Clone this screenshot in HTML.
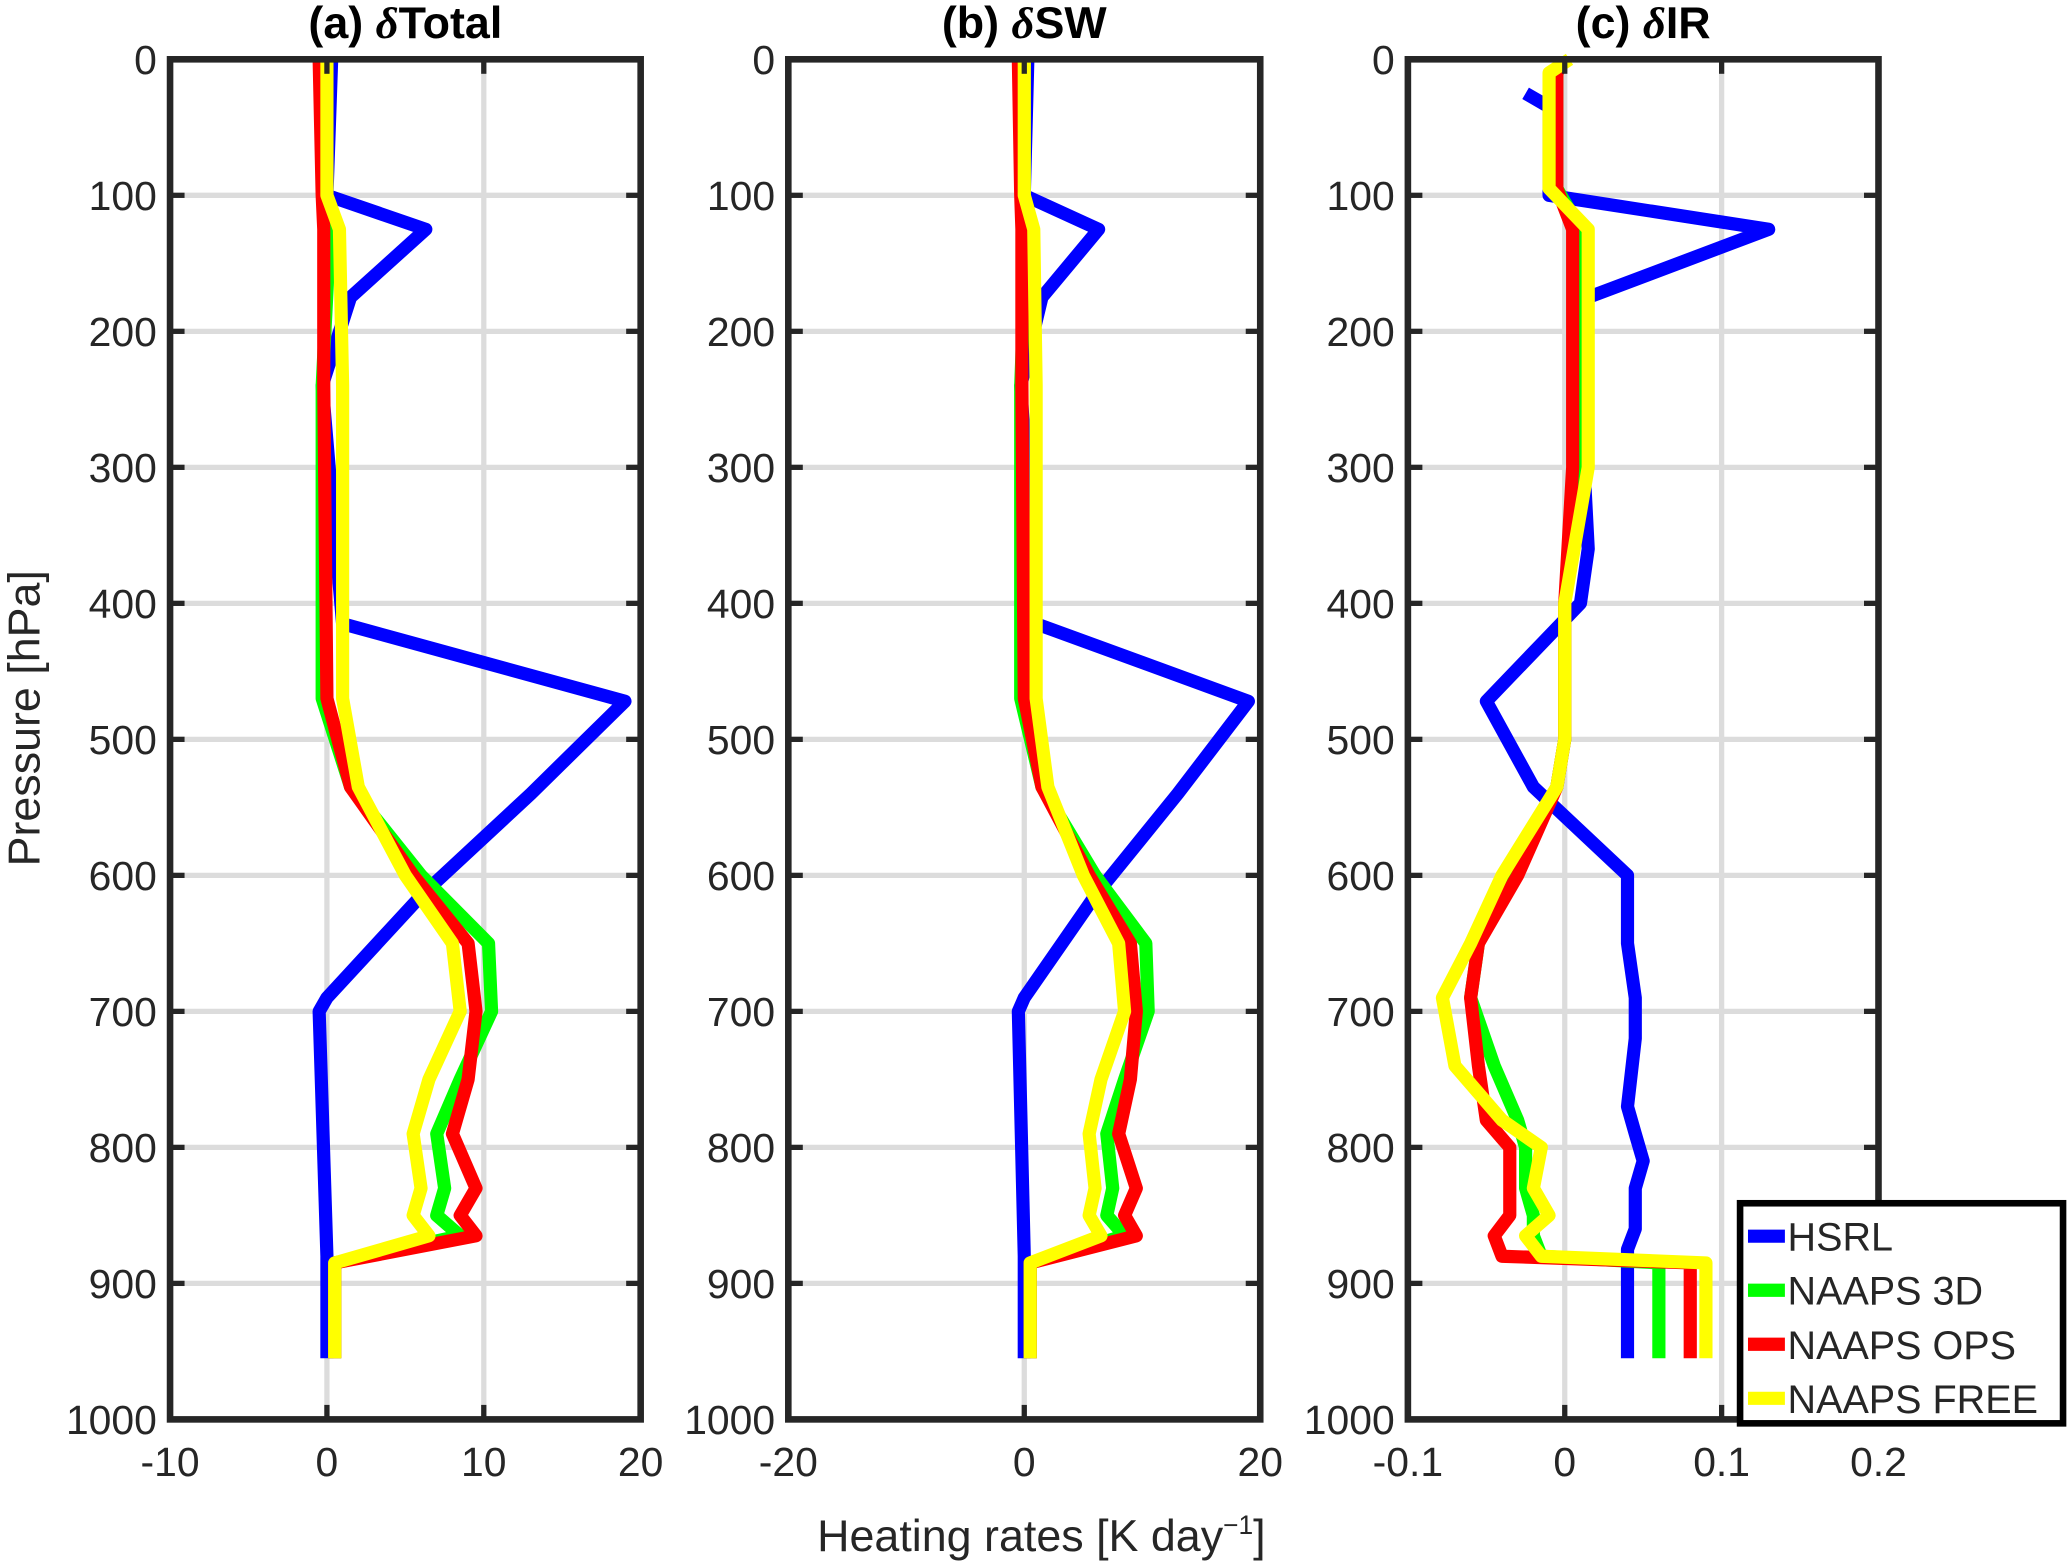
<!DOCTYPE html>
<html><head><meta charset="utf-8"><style>
html,body{margin:0;padding:0;background:#fff;}
svg{display:block;font-family:"Liberation Sans",Arial,sans-serif;}
</style></head><body>
<svg id="chart" width="2067" height="1567" viewBox="0 0 1568 1189" preserveAspectRatio="none" xmlns="http://www.w3.org/2000/svg">
<text x="790" y="1177" font-size="34" text-anchor="middle" fill="#262626">Heating rates [K day<tspan font-size="20" dy="-13">−1</tspan><tspan dy="13">]</tspan></text>
<text transform="translate(30,545) rotate(-90)" font-size="34" text-anchor="middle" fill="#262626">Pressure [hPa]</text>
</svg>
<script>
const svgNS="http://www.w3.org/2000/svg";
const svg=document.getElementById('chart');
const pressures=[0,100,125,240,470,535,600,650,700,750,790,830,850,865,885,955];
const seriesNames=['HSRL','NAAPS 3D','NAAPS OPS','NAAPS FREE'];
const seriesColors=['#0000ff','#00ff00','#ff0000','#ffff00'];
// Panel (a) dTotal
const hsrlP_a=[0,100,125,175,240,415,472,540,615,690,700,880,955];
const hsrlV_a=[0.3,0,6.3,1.5,-0.3,1,19,13,6,0,-0.5,0,0];
const naaps3d_a=[0,0,0.2,-0.3,-0.3,1.5,6,10.3,10.5,8.5,7,7.5,7,8.5,0.5,0.5];
const naapsOps_a=[-0.5,-0.3,-0.2,-0.2,0,1.5,5.5,9,9.5,9,8,9.5,8.5,9.5,0.5,0.5];
const naapsFree_a=[0,0,0.8,1,1,2,5,8,8.5,6.5,5.5,6,5.5,6.5,0.5,0.5];
// Panel (b) dSW
const hsrlP_b=[0,100,125,175,240,415,472,540,615,690,700,880,955];
const hsrlV_b=[0.3,0,6.3,1.5,-0.3,1,19,13,6,0,-0.5,0,0];
const naaps3d_b=[0,0,0.2,-0.3,-0.3,1.5,6,10.3,10.5,8.5,7,7.5,7,8.5,0.5,0.5];
const naapsOps_b=[-0.5,-0.3,-0.2,-0.2,0,1.5,5.5,9,9.5,9,8,9.5,8.5,9.5,0.5,0.5];
const naapsFree_b=[0,0,0.8,1,1,2,5,8,8.5,6.5,5.5,6,5.5,6.5,0.5,0.5];
// Panel (c) dIR
const hsrlP_c=[25,35,100,125,175,250,360,400,472,535,600,650,690,720,770,790,810,830,860,875,955];
const hsrlV_c=[-0.025,-0.01,-0.01,0.13,0.015,0.01,0.015,0.01,-0.05,-0.02,0.04,0.04,0.045,0.045,0.04,0.045,0.05,0.045,0.045,0.04,0.04];
const irP=[0,10,95,125,300,400,500,535,600,650,690,740,780,800,830,850,865,880,885,955];
const naaps3d_c=[0,-0.005,-0.005,0.01,0.01,0,0,-0.005,-0.035,-0.055,-0.06,-0.045,-0.03,-0.025,-0.025,-0.02,-0.02,-0.015,0.06,0.06];
const naapsOps_c=[0,-0.005,-0.005,0.005,0.005,0,0,-0.005,-0.03,-0.055,-0.06,-0.055,-0.05,-0.035,-0.035,-0.035,-0.045,-0.04,0.08,0.08];
const naapsFree_c=[0.003,-0.01,-0.01,0.015,0.015,0,0,-0.005,-0.04,-0.06,-0.078,-0.07,-0.04,-0.015,-0.02,-0.01,-0.025,-0.015,0.09,0.09];
const yTicks=[0,100,200,300,400,500,600,700,800,900,1000];

const panels=[
 {id:'a',title:'(a) ',tname:'Total',x0:129,x1:486,xmin:-10,xmax:20,xt:[-10,0,10,20],xl:['-10','0','10','20'],
  series:[[hsrlP_a,hsrlV_a],[pressures,naaps3d_a],[pressures,naapsOps_a],[pressures,naapsFree_a]]},
 {id:'b',title:'(b) ',tname:'SW',x0:598,x1:956,xmin:-20,xmax:20,xt:[-20,0,20],xl:['-20','0','20'],
  series:[[hsrlP_b,hsrlV_b],[pressures,naaps3d_b],[pressures,naapsOps_b],[pressures,naapsFree_b]]},
 {id:'c',title:'(c) ',tname:'IR',x0:1068,x1:1425,xmin:-0.1,xmax:0.2,xt:[-0.1,0,0.1,0.2],xl:['-0.1','0','0.1','0.2'],
  series:[[hsrlP_c,hsrlV_c],[irP,naaps3d_c],[irP,naapsOps_c],[irP,naapsFree_c]]}
];
const Y0=45,Y1=1077;
const yS=p=>Y0+(Y1-Y0)*p/1000;
function el(tag,attrs,parent){const e=document.createElementNS(svgNS,tag);for(const k in attrs)e.setAttribute(k,attrs[k]);(parent||svg).appendChild(e);return e;}
panels.forEach(P=>{
 const xS=v=>P.x0+(P.x1-P.x0)*(v-P.xmin)/(P.xmax-P.xmin);
 const g=el('g',{});
 
 
 el('rect',{x:P.x0,y:Y0,width:P.x1-P.x0,height:Y1-Y0,fill:'#fff'},g);
 yTicks.forEach(t=>{if(t>0&&t<1000)el('line',{x1:P.x0,x2:P.x1,y1:yS(t),y2:yS(t),stroke:'#dcdcdc','stroke-width':4},g);});
 P.xt.forEach(t=>{const x=xS(t);if(x>P.x0+2&&x<P.x1-2)el('line',{x1:x,x2:x,y1:Y0,y2:Y1,stroke:'#dcdcdc','stroke-width':4},g);});
 P.series.forEach((s,i)=>{
  const pts=s[0].map((p,j)=>xS(s[1][j]).toFixed(1)+','+yS(p).toFixed(1)).join(' ');
  const pl=el('polyline',{points:pts,fill:'none',stroke:seriesColors[i],'stroke-width':10,'stroke-linejoin':'round'},g);
  
  
 });
 yTicks.forEach(t=>{
  el('line',{x1:P.x0,x2:P.x0+11,y1:yS(t),y2:yS(t),stroke:'#262626','stroke-width':4},g);
  el('line',{x1:P.x1,x2:P.x1-11,y1:yS(t),y2:yS(t),stroke:'#262626','stroke-width':4},g);
  const tx=el('text',{x:P.x0-10,y:yS(t)+11,'font-size':31,'text-anchor':'end',fill:'#262626'},g);
  tx.textContent=t;
  
  
 });
 P.xt.forEach((t,k)=>{
  const x=xS(t);
  el('line',{x1:x,x2:x,y1:Y1,y2:Y1-11,stroke:'#262626','stroke-width':4},g);
  el('line',{x1:x,x2:x,y1:Y0,y2:Y0+11,stroke:'#262626','stroke-width':4},g);
  const tx=el('text',{x:x,y:Y1+43,'font-size':31,'text-anchor':'middle',fill:'#262626'},g);
  tx.textContent=P.xl[k];
  
  
 });
 el('rect',{x:P.x0,y:Y0,width:P.x1-P.x0,height:Y1-Y0,fill:'none',stroke:'#262626','stroke-width':5},g);
 const tt=el('text',{x:(P.x0+P.x1)/2,y:29,'font-size':34,'font-weight':'bold','text-anchor':'middle',fill:'#000'},g);
 
 
 tt.appendChild(document.createTextNode(P.title));
 const d=el('tspan',{'font-style':'italic','font-family':'"Liberation Serif",serif'},tt);d.textContent='δ';
 tt.appendChild(document.createTextNode(P.tname));
});
// legend
const lg=el('g',{});


el('rect',{x:1320,y:913,width:245,height:167,fill:'#fff',stroke:'#000','stroke-width':5},lg);
seriesNames.forEach((n,i)=>{
 const y=938+i*41;
 const ln=el('line',{x1:1326,x2:1354,y1:y,y2:y,stroke:seriesColors[i],'stroke-width':10},lg);
 
 
 const t=el('text',{x:1356,y:y+11,'font-size':30,fill:'#262626'},lg);
 t.textContent=n;
 
 
});
</script>
</body></html>
